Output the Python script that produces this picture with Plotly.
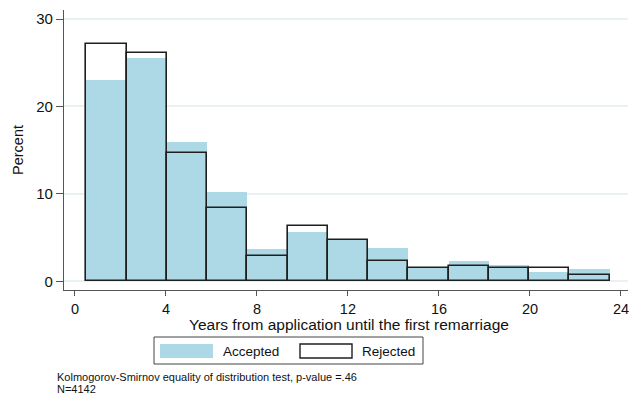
import plotly.graph_objects as go

# Histogram of years until first remarriage, by application outcome (percent per bin)
bin_start = 0.5
bin_end = 23.5
n_bins = 13
accepted_pct = [23.0, 25.6, 15.9, 10.25, 3.7, 5.6, 4.75, 3.85, 1.56, 2.29, 1.83, 1.1, 1.41]
rejected_pct = [27.15, 26.1, 14.7, 8.42, 2.9, 6.3, 4.75, 2.36, 1.56, 1.79, 1.56, 1.56, 0.76]
x_ticks = [0, 4, 8, 12, 16, 20, 24]
y_ticks = [0, 10, 20, 30]
series_names = ["Accepted", "Rejected"]
note_lines = ["Kolmogorov-Smirnov equality of distribution test, p-value =.46", "N=4142"]

bin_width = (bin_end - bin_start) / n_bins
centers = [bin_start + bin_width * (i + 0.5) for i in range(n_bins)]

FONT = "Liberation Sans, Arial, Helvetica, sans-serif"
BLUE = "#ADD8E6"
EDGE = "#1f1f1f"

fig = go.Figure()
fig.add_trace(go.Bar(
    x=centers, y=accepted_pct, width=bin_width, name=series_names[0],
    marker=dict(color=BLUE, line=dict(width=0)),
))
fig.add_trace(go.Bar(
    x=centers, y=rejected_pct, width=bin_width, name=series_names[1],
    marker=dict(color="rgba(0,0,0,0)", line=dict(color=EDGE, width=1.6)),
))

fig.update_layout(
    width=630, height=394,
    margin=dict(l=64, r=2, t=10, b=104),
    paper_bgcolor="white", plot_bgcolor="white",
    barmode="overlay", bargap=0,
    showlegend=False,
    font=dict(family=FONT, size=14, color="#111111"),
    xaxis=dict(
        range=[-0.48, 24.31], tickvals=x_ticks, showgrid=False, zeroline=False,
        showline=True, linecolor="#555555", linewidth=1.2,
        ticks="outside", ticklen=5, tickwidth=1.2, tickcolor="#555555",
        tickfont=dict(size=14.5),
    ),
    yaxis=dict(
        range=[-1.0, 31.04], tickvals=y_ticks, showgrid=True, gridcolor="#EAF1F2",
        gridwidth=1.5, zeroline=False,
        showline=True, linecolor="#555555", linewidth=1.2,
        ticks="outside", ticklen=7, tickwidth=1.2, tickcolor="#555555",
        tickfont=dict(size=15),
    ),
)

def px_x(p):
    return (p - 64) / 564

def px_y(p):
    return (290 - p) / 280

def note(text, x, y, **kw):
    base = dict(text=text, x=px_x(x), y=px_y(y), xref="paper", yref="paper",
                xanchor="left", yanchor="middle", showarrow=False)
    base.update(kw)
    return base

annotations = [
    note("Years from application until the first remarriage", 349, 324,
         xanchor="center", font=dict(size=15.5)),
    note("Percent", 18, 150, xanchor="center", textangle=-90, font=dict(size=14.5)),
    note(note_lines[0], 55, 377, font=dict(size=11)),
    note(note_lines[1], 55, 388.5, font=dict(size=11)),
    note(series_names[0], 221, 351, font=dict(size=13.5)),
    note(series_names[1], 360, 351, font=dict(size=13.5)),
]

shapes = [
    # legend frame
    dict(type="rect", xref="paper", yref="paper", x0=px_x(154), x1=px_x(423),
         y0=px_y(364), y1=px_y(337), line=dict(color="#444444", width=1), fillcolor="white"),
    # legend keys
    dict(type="rect", xref="paper", yref="paper", x0=px_x(160), x1=px_x(213),
         y0=px_y(358), y1=px_y(344), line=dict(width=0), fillcolor=BLUE),
    dict(type="rect", xref="paper", yref="paper", x0=px_x(300), x1=px_x(352),
         y0=px_y(358), y1=px_y(344), line=dict(color=EDGE, width=1.4), fillcolor="white"),
]

fig.update_layout(annotations=annotations, shapes=shapes)
fig.write_html("out.html")
